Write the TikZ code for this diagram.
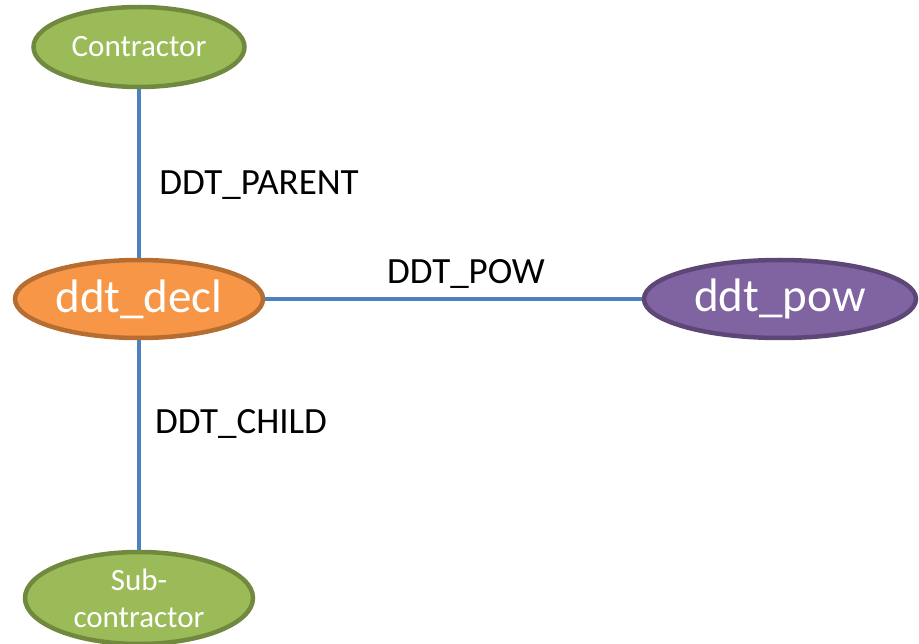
\documentclass[tikz,border=0pt]{standalone}
\usepackage{fontspec}
\setmainfont{Carlito}
\usetikzlibrary{shapes.geometric,positioning}
\definecolor{roleGreen}{HTML}{9BBB59}
\definecolor{roleGreenLine}{HTML}{71893F}
\definecolor{declOrange}{HTML}{F79646}
\definecolor{declOrangeLine}{HTML}{B66D31}
\definecolor{powPurple}{HTML}{8064A2}
\definecolor{powPurpleLine}{HTML}{5C4776}
\definecolor{linkBlue}{HTML}{4F81BD}
\tikzset{
 role/.style
  = {ellipse, draw=roleGreenLine, fill=roleGreen, line width=4.5pt, inner sep=0pt,
     text=white, align=center, font=\fontsize{31}{37}\selectfont},
 decl/.style
  = {ellipse, draw=declOrangeLine, fill=declOrange, line width=4.5pt, inner sep=0pt,
     text=white, font=\fontsize{47}{56}\selectfont},
 pow/.style
  = {ellipse, draw=powPurpleLine, fill=powPurple, line width=4.5pt, inner sep=0pt,
     text=white, font=\fontsize{47}{56}\selectfont},
 link/.style
  = {draw=linkBlue, line width=3.5pt},
 tag/.style
  = {anchor=base, inner sep=0pt, font=\fontsize{37}{44}\selectfont},
}

\begin{document}
\begin{tikzpicture}[x=1pt,y=-1pt]
\useasboundingbox (0,0) rectangle (919,644);

% Declaration in the middle
\node[decl, minimum width=248pt, minimum height=78pt] (decl) at (139,299) {ddt\_decl};

% Parent and child
\node[role, minimum width=211pt, minimum height=80pt] (contractor) at (139,47) {Contractor};
\node[role, minimum width=228pt, minimum height=92pt] (sub) at (139,598) {Sub-\\contractor};

% Pow
\node[pow, minimum width=272pt, minimum height=78pt] (pow) at (780,299) {ddt\_pow};

% Links
\draw[link] (contractor) -- (decl);
\draw[link] (decl) -- (sub);
\draw[link] (decl) -- (pow);

% Link labels
\node[tag] (parent) at (259,195) {DDT\_PARENT};
\node[tag] (powtag) at (466,284) {DDT\_POW};
\node[tag] (child) at (241,433) {DDT\_CHILD};

\end{tikzpicture}
\end{document}
